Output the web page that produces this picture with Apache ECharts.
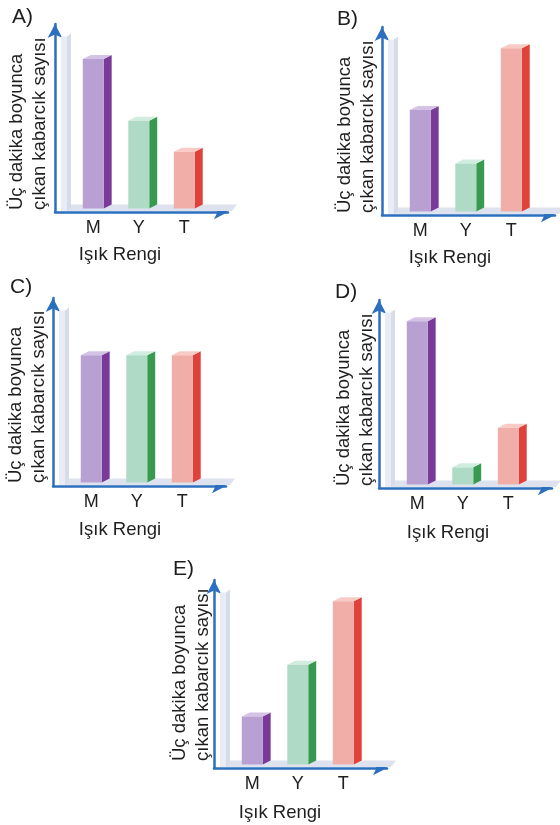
<!DOCTYPE html>
<html>
<head>
<meta charset="utf-8">
<script src="https://cdn.jsdelivr.net/npm/echarts@6/dist/echarts.min.js"></script>
<style>
  html, body { margin: 0; padding: 0; background: #fff; }
  #main { width: 560px; height: 825px; }
</style>
</head>
<body>
<div id="main"></div>
<script>
const categories = ['M', 'Y', 'T'];
const panelNames = ['A)', 'B)', 'C)', 'D)', 'E)'];
const valuesA = [8.7, 5.1, 3.3];
const valuesB = [5.9, 2.8, 9.5];
const valuesC = [7.4, 7.4, 7.4];
const valuesD = [9.5, 1.0, 3.3];
const valuesE = [2.8, 5.8, 9.5];
const wallHeight = 10;
const yTitle = 'Üç dakika boyunca\nçıkan kabarcık sayısı';
const xTitle = 'Işık Rengi';

const panelValues = [valuesA, valuesB, valuesC, valuesD, valuesE];

// where each small chart sits on the page (y-axis x, x-axis y, label anchors)
const layout = [
  { left: 55,  axisY: 212, titleX: 28.5,  titleY: 210, nameX: 120, nameY: 255, tagX: 12,  tagY: 17 },
  { left: 382, axisY: 215, titleX: 356.5, titleY: 213, nameX: 450, nameY: 258, tagX: 337, tagY: 19 },
  { left: 53,  axisY: 486, titleX: 27.5,  titleY: 483, nameX: 120, nameY: 530, tagX: 10,  tagY: 287 },
  { left: 379, axisY: 488, titleX: 355.5, titleY: 486, nameX: 448, nameY: 533, tagX: 335, tagY: 292 },
  { left: 214, axisY: 768, titleX: 191.5, titleY: 761, nameX: 280, nameY: 813, tagX: 173, tagY: 569 }
];

const barColors = [
  { front: '#b9a0d2', side: '#7a3a99', top: '#d4c3e5' },
  { front: '#afdbc6', side: '#389a50', top: '#d1eddf' },
  { front: '#f1ada7', side: '#e0413a', top: '#f8cbc6' }
];
const axisBlue = '#2c6fbe';
const font = 'Liberation Sans';
const gridH = 188, gridW = 173;

function renderBar(params, api) {
  const pos = api.value(0), v = api.value(1);
  const base = api.coord([pos, 0]);
  const top = api.coord([pos, v]);
  const fw = api.size([1, 0])[0] * 0.46;
  const sw = fw * 0.38, rise = 4;
  const x0 = base[0] - fw / 2, x1 = x0 + fw;
  const c = barColors[params.dataIndex];
  return {
    type: 'group',
    children: [
      { type: 'polygon', shape: { points: [[x1, top[1]], [x1 + sw, top[1] - rise], [x1 + sw, base[1] - rise], [x1, base[1]]] }, style: { fill: c.side } },
      { type: 'polygon', shape: { points: [[x0, top[1]], [x1, top[1]], [x1 + sw, top[1] - rise], [x0 + sw, top[1] - rise]] }, style: { fill: c.top } },
      { type: 'rect', shape: { x: x0, y: top[1], width: fw, height: base[1] - top[1] }, style: { fill: c.front } }
    ]
  };
}

// light back wall + floor behind the bars
function renderFrame(params, api) {
  const cs = params.coordSys;
  const floorY = api.coord([1, 0])[1];
  const axisY = cs.y + cs.height;
  const wallTop = api.coord([1, api.value(0)])[1];
  const wx = cs.x + 6, ww = 6, ws = 4;
  return {
    type: 'group',
    children: [
      { type: 'polygon', shape: { points: [[wx, axisY - 1], [cs.x + cs.width + 4, axisY - 1], [cs.x + cs.width + 9, floorY - 4], [wx + 4, floorY - 4]] }, style: { fill: '#dde2ee' } },
      { type: 'rect', shape: { x: wx, y: wallTop, width: ww, height: axisY - 1 - wallTop }, style: { fill: '#e9ecf5' } },
      { type: 'polygon', shape: { points: [[wx + ww, wallTop], [wx + ww + ws, wallTop - 3], [wx + ww + ws, axisY - 4], [wx + ww, axisY - 1]] }, style: { fill: '#d6dcea' } }
    ]
  };
}

const grid = [], xAxis = [], yAxis = [], series = [], graphic = [];
layout.forEach((p, k) => {
  grid.push({ left: p.left, top: p.axisY - gridH, width: gridW, height: gridH });
  xAxis.push({
    type: 'value', gridIndex: k, min: 0.16, max: 3.96,
    splitLine: { show: false },
    axisTick: { show: false },
    axisLine: { onZero: false, lineStyle: { color: axisBlue, width: 2.5 }, symbol: ['none', 'arrow'], symbolSize: [11, 14] },
    axisLabel: {
      customValues: [1, 2, 3], margin: 7, color: '#1e1e1e', fontFamily: font, fontSize: 18,
      formatter: v => categories[Math.round(v) - 1]
    }
  });
  yAxis.push({
    type: 'value', gridIndex: k, min: -0.2, max: 10.73,
    splitLine: { show: false },
    axisTick: { show: false },
    axisLabel: { show: false },
    axisLine: { onZero: false, lineStyle: { color: axisBlue, width: 2.5 }, symbol: ['none', 'arrow'], symbolSize: [11, 14] }
  });
  series.push({
    type: 'custom', xAxisIndex: k, yAxisIndex: k, z: 1,
    renderItem: renderFrame, data: [[wallHeight]], silent: true
  });
  series.push({
    type: 'custom', xAxisIndex: k, yAxisIndex: k, z: 2,
    renderItem: renderBar,
    data: panelValues[k].map((v, i) => [i + 1, v])
  });
  graphic.push({
    type: 'text', x: p.titleX, y: p.titleY, rotation: Math.PI / 2,
    style: { text: yTitle, fill: '#1e1e1e', font: '18.5px "' + font + '"', lineHeight: 23, align: 'left', verticalAlign: 'middle' }
  });
  graphic.push({
    type: 'text', x: p.nameX, y: p.nameY,
    style: { text: xTitle, fill: '#1e1e1e', font: '18.5px "' + font + '"', align: 'center', verticalAlign: 'middle' }
  });
  graphic.push({
    type: 'text', x: p.tagX, y: p.tagY,
    style: { text: panelNames[k], fill: '#1e1e1e', font: '21px "' + font + '"', align: 'left', verticalAlign: 'middle' }
  });
});

const chart = echarts.init(document.getElementById('main'));
chart.setOption({
  backgroundColor: '#ffffff',
  animation: false,
  grid, xAxis, yAxis, series, graphic
});
</script>
</body>
</html>
